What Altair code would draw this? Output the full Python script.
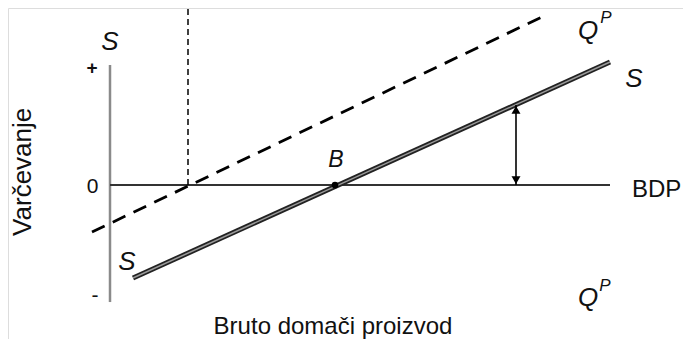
import altair as alt
import pandas as pd

# Savings function S (GDP units, savings units)
s_x = [0.46, 10.0]
s_y = [-0.775, 1.025]
# Dashed line (upper, shifted savings line)
q_x = [-0.36, 8.76]
q_y = [-0.392, 1.425]
# Vertical dashed guide
v_x = [1.56, 1.56]
v_y = [0.0, 1.475]
# Vertical axis line and zero (BDP) line
yaxis_x = [0.0, 0.0]
yaxis_y = [-0.975, 1.0]
zero_x = [0.0, 10.0]
zero_y = [0.0, 0.0]
# Point B
b_x = [4.5]
b_y = [0.0]
# Double arrow
arrow_x = [8.12, 8.12]
arrow_y = [0.0, 0.667]

# Annotation texts
label_text = ["S", "S", "B", "S", "Q", "Q"]
label_x = [0.0, 0.34, 4.52, 10.48, 9.56, 9.56]
label_y = [1.19, -0.64, 0.208, 0.883, 1.283, -0.94]
sup_text = ["P", "P"]
sup_x = [9.92, 9.9]
sup_y = [1.39, -0.84]
tick_text = ["+", "0", "-"]
tick_x = [-0.36, -0.35, -0.3]
tick_y = [0.975, -0.017, -0.925]

FONT = "Liberation Sans"
xs = alt.Scale(domain=[-2.04, 11.46], nice=False, zero=False)
ys = alt.Scale(domain=[-1.283, 1.475], nice=False, zero=False)


def enc(ch):
    return ch.encode(
        x=alt.X("x:Q", scale=xs, axis=None),
        y=alt.Y("y:Q", scale=ys, axis=None),
    )


def line(xv, yv, **kw):
    df = pd.DataFrame({"x": xv, "y": yv, "o": list(range(len(xv)))})
    return enc(alt.Chart(df).mark_line(**kw)).encode(order="o:Q")


def texts(t, xv, yv, **kw):
    df = pd.DataFrame({"t": t, "x": xv, "y": yv})
    return enc(alt.Chart(df).mark_text(font=FONT, color="#111111", **kw)).encode(text="t:N")


def head(i, shape, off):
    df = pd.DataFrame({"x": [arrow_x[i]], "y": [arrow_y[i]]})
    return enc(alt.Chart(df).mark_point(shape=shape, filled=True, color="#000000",
                                        size=80, opacity=1)).encode(yOffset=alt.value(off))


layers = [
    line(yaxis_x, yaxis_y, color="#8a8a8a", strokeWidth=2.5),
    line(zero_x, zero_y, color="#333333", strokeWidth=1.8),
    line(v_x, v_y, color="#000000", strokeWidth=1.5, strokeDash=[6, 4]),
    line(q_x, q_y, color="#000000", strokeWidth=2.8, strokeDash=[14, 9]),
    line(s_x, s_y, color="#222222", strokeWidth=5),
    line(s_x, s_y, color="#9a9a9a", strokeWidth=1.5),
    line(arrow_x, arrow_y, color="#000000", strokeWidth=1.6),
    head(0, "triangle-down", -5),
    head(1, "triangle-up", 5),
    enc(alt.Chart(pd.DataFrame({"x": b_x, "y": b_y}))
        .mark_circle(color="#000000", size=45, opacity=1)),
    texts(label_text[:2], label_x[:2], label_y[:2], fontSize=26, fontStyle="italic",
          align="center", baseline="middle"),
    texts(label_text[2:3], label_x[2:3], label_y[2:3], fontSize=23, fontStyle="italic",
          align="center", baseline="middle"),
    texts(label_text[3:], label_x[3:], label_y[3:], fontSize=26, fontStyle="italic",
          align="center", baseline="middle"),
    texts(sup_text, sup_x, sup_y, fontSize=17, fontStyle="italic",
          align="center", baseline="middle"),
    texts(tick_text[:1], tick_x[:1], tick_y[:1], fontSize=19, fontWeight="bold",
          align="center", baseline="middle"),
    texts(tick_text[1:], tick_x[1:], tick_y[1:], fontSize=21,
          align="center", baseline="middle"),
    texts(["BDP"], [10.44], [-0.042], fontSize=24, align="left",
          baseline="middle"),
    texts(["Varčevanje"], [-1.74], [0.11], fontSize=26, angle=270,
          align="center", baseline="middle"),
    texts(["Bruto domači proizvod"], [4.46], [-1.242], fontSize=24,
          align="center", baseline="alphabetic"),
]

chart = (
    alt.layer(*layers)
    .properties(width=675, height=331, padding=0,
                autosize=alt.AutoSizeParams(type="none"))
    .configure_view(stroke=None)
    .configure(background="white")
)

chart.save("out.html", embed_options={"renderer": "svg", "actions": False})
